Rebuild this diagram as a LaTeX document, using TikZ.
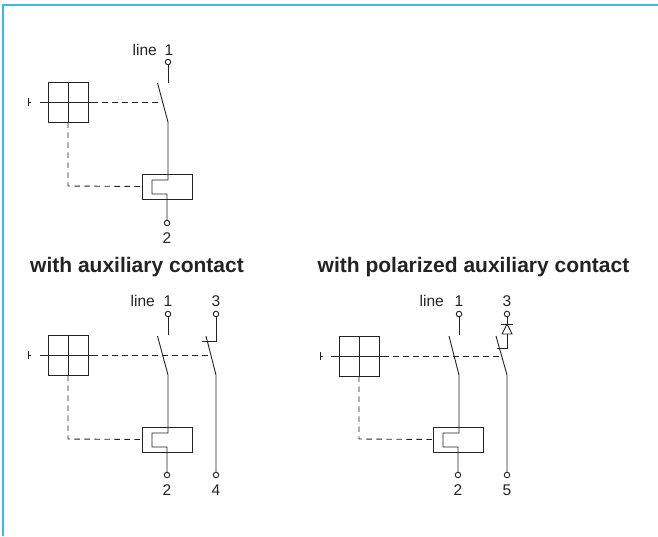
\documentclass[tikz,border=0pt]{standalone}
\usepackage{fontspec}
\setmainfont{Liberation Sans}
\usetikzlibrary{positioning,calc}
\definecolor{frameblue}{RGB}{55,185,235}
\definecolor{inkgrey}{RGB}{35,35,35}

\begin{document}
\begin{tikzpicture}[
    x=1pt, y=-1pt,
    wire/.style={draw=inkgrey, line width=0.9pt},
    dashwire/.style={draw=inkgrey, line width=0.9pt, dash pattern=on 5.5pt off 4.5pt},
    terminal/.style={draw=inkgrey, circle, fill=white, line width=0.9pt, minimum size=5.5pt, inner sep=0pt},
    handle/.style={draw=inkgrey, line width=0.9pt, minimum size=40pt, inner sep=0pt},
    coil/.style={draw=inkgrey, line width=0.9pt, minimum width=50pt, minimum height=25pt, inner sep=0pt},
    label/.style={text=inkgrey, font=\fontsize{15.5}{18}\selectfont, inner sep=0pt},
    heading/.style={text=inkgrey, font=\fontsize{21}{24}\selectfont\bfseries, inner sep=0pt}
]
    % Frame
    \useasboundingbox (0,0) rectangle (658,536);
    \draw[frameblue, line width=2pt] (3,536) -- (3,5) -- (658,5);

    % Headings
    \node[heading, anchor=base] (head2) at (137,272.5) {with auxiliary contact};
    \node[heading, anchor=base] (head3) at (473.5,272.5) {with polarized auxiliary contact};

    % Top circuit
    \node[handle] (handleA) at (68,102) {};
    \node[coil] (coilA) at (167,186.5) {};
    \node[terminal] (inA) at (168,62) {};
    \node[terminal] (outA) at (167,223) {};
    \node[label, anchor=base] (numA) at (169,55) {1};
    \node[label, anchor=base east] (lineA) at (157,55) {line};
    \node[label, anchor=base] (twoA) at (167,243) {2};
    \coordinate (tickA) at (28,102);
    \coordinate (openA) at (168,83);
    \coordinate (bladeA) at (157.5,83);
    \coordinate (hingeA) at (168,122);
    \coordinate (crossA) at (163,102);
    \draw[wire] (28,98) -- (28,106);
    \draw[wire] (tickA) -- ++(3,0);
    \draw[wire] (40,102) -- (92,102);
    \draw[wire] (handleA.north) -- (handleA.south);
    \draw[dashwire] (92,102) -- (crossA);
    \draw[dashwire] (handleA.south) -- (68,186) -- (coilA.west);
    \draw[wire] (inA) -- (openA);
    \draw[wire] (bladeA) -- (hingeA) -- (168,180) -- (152,180) -- (152,194) -- (167,194) -- (outA);

    % Circuit with auxiliary contact
    \node[handle] (handleB) at (68,355) {};
    \node[coil] (coilB) at (167,439.5) {};
    \node[terminal] (inB) at (168,314) {};
    \node[terminal] (auxB) at (216,314) {};
    \node[terminal] (outB) at (167,475) {};
    \node[terminal] (auxoutB) at (216,475) {};
    \node[label, anchor=base] (numB) at (168,306) {1};
    \node[label, anchor=base east] (lineB) at (155,306) {line};
    \node[label, anchor=base] (threeB) at (216,306) {3};
    \node[label, anchor=base] (twoB) at (167,495) {2};
    \node[label, anchor=base] (fourB) at (216,495) {4};
    \coordinate (tickB) at (28,355);
    \coordinate (crossB) at (211,355);
    \draw[wire] (28,351) -- (28,359);
    \draw[wire] (tickB) -- ++(3,0);
    \draw[wire] (40,355) -- (92,355);
    \draw[wire] (handleB.north) -- (handleB.south);
    \draw[dashwire] (92,355) -- (crossB);
    \draw[dashwire] (handleB.south) -- (68,439) -- (coilB.west);
    \draw[wire] (inB) -- (168,335);
    \draw[wire] (157.5,336) -- (168,375) -- (168,433) -- (152,433) -- (152,447) -- (167,447) -- (outB);
    \draw[wire] (auxB) -- (216,341) -- (202,341);
    \draw[wire] (206,336) -- (216,375) -- (auxoutB);

    % Circuit with polarized auxiliary contact
    \node[handle] (handleC) at (359,356) {};
    \node[coil] (coilC) at (458,439.5) {};
    \node[terminal] (inC) at (459,314) {};
    \node[terminal] (auxC) at (507,314) {};
    \node[terminal] (outC) at (458,475) {};
    \node[terminal] (auxoutC) at (507,475) {};
    \node[label, anchor=base] (numC) at (459,306) {1};
    \node[label, anchor=base east] (lineC) at (444,306) {line};
    \node[label, anchor=base] (threeC) at (507,306) {3};
    \node[label, anchor=base] (twoC) at (458,495) {2};
    \node[label, anchor=base] (fiveC) at (507,495) {5};
    \coordinate (tickC) at (320,356);
    \coordinate (crossC) at (502,356);
    \draw[wire] (320,352) -- (320,360);
    \draw[wire] (tickC) -- ++(3,0);
    \draw[wire] (331,356) -- (383,356);
    \draw[wire] (handleC.north) -- (handleC.south);
    \draw[dashwire] (383,356) -- (crossC);
    \draw[dashwire] (handleC.south) -- (359,439) -- (coilC.west);
    \draw[wire] (inC) -- (459,335);
    \draw[wire] (449,336) -- (459,375) -- (459,433) -- (443,433) -- (443,447) -- (458,447) -- (outC);
    % Diode
    \draw[wire] (auxC) -- (507,324);
    \draw[wire] (501,324) -- (513,324);
    \draw[wire] (507,324) -- (502,334) -- (512,334) -- cycle;
    \draw[wire] (507,334) -- (507,348) -- (497,348);
    \draw[wire] (496,336) -- (507,375) -- (auxoutC);
\end{tikzpicture}
\end{document}
